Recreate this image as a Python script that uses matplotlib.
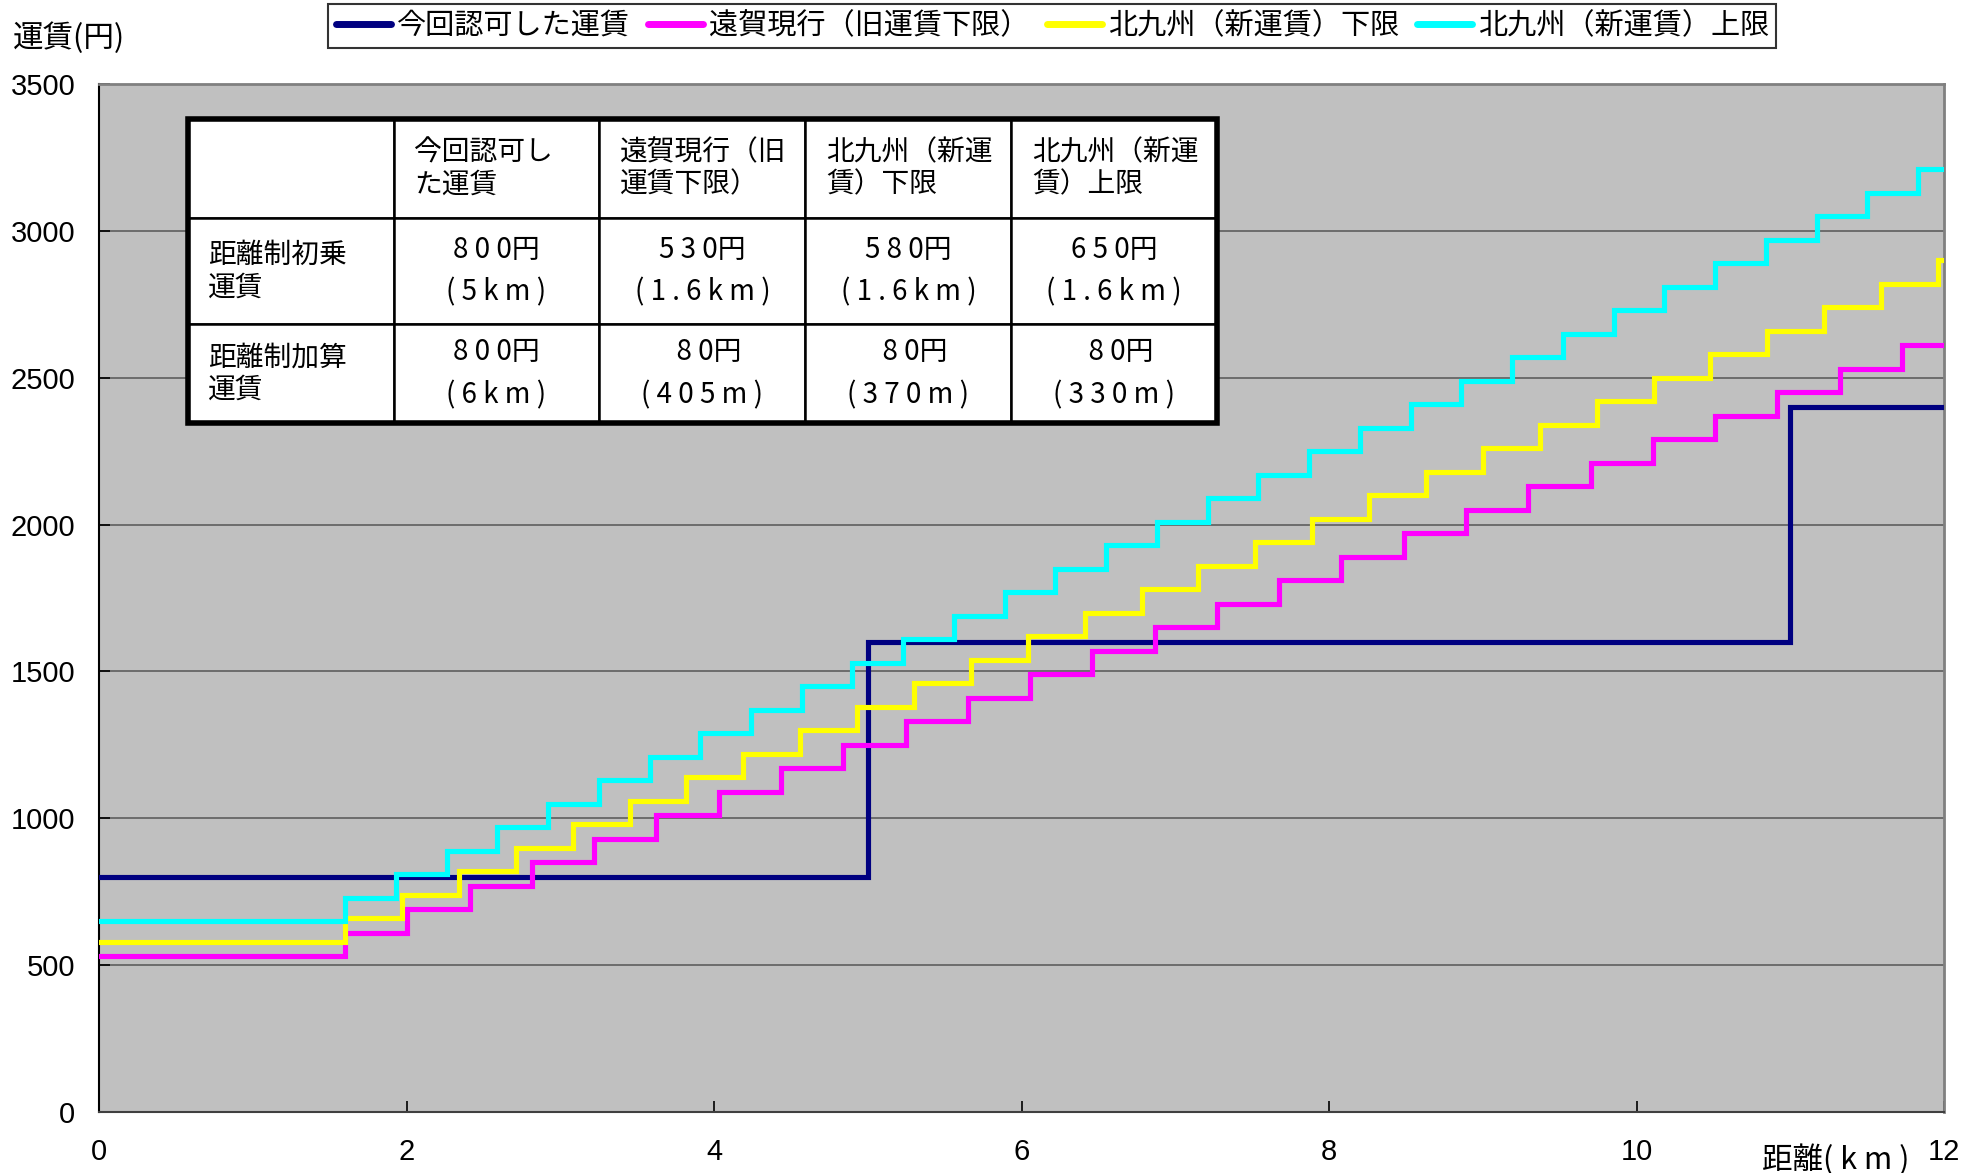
import matplotlib.pyplot as plt
from matplotlib.lines import Line2D
from matplotlib.patches import Rectangle

plt.rcParams['font.family'] = ['Noto Sans CJK JP', 'DejaVu Sans']

# step data: distance (km) where each fare starts, and the fare (yen)
nintei_km = [0, 5, 11]
nintei_yen = [800, 1600, 2400]

onga_km = [0, 1.6, 2.005, 2.41, 2.815, 3.22, 3.625, 4.03, 4.435, 4.84, 5.245,
           5.65, 6.055, 6.46, 6.865, 7.27, 7.675, 8.08, 8.485, 8.89, 9.295,
           9.70, 10.105, 10.51, 10.915, 11.32, 11.725]
onga_yen = [530, 610, 690, 770, 850, 930, 1010, 1090, 1170, 1250, 1330,
            1410, 1490, 1570, 1650, 1730, 1810, 1890, 1970, 2050, 2130,
            2210, 2290, 2370, 2450, 2530, 2610]

kita_low_km = [0, 1.6, 1.97, 2.34, 2.71, 3.08, 3.45, 3.82, 4.19, 4.56, 4.93,
               5.30, 5.67, 6.04, 6.41, 6.78, 7.15, 7.52, 7.89, 8.26, 8.63,
               9.00, 9.37, 9.74, 10.11, 10.48, 10.85, 11.22, 11.59, 11.96]
kita_low_yen = [580, 660, 740, 820, 900, 980, 1060, 1140, 1220, 1300, 1380,
                1460, 1540, 1620, 1700, 1780, 1860, 1940, 2020, 2100, 2180,
                2260, 2340, 2420, 2500, 2580, 2660, 2740, 2820, 2900]

kita_high_km = [0, 1.6, 1.93, 2.26, 2.59, 2.92, 3.25, 3.58, 3.91, 4.24, 4.57,
                4.90, 5.23, 5.56, 5.89, 6.22, 6.55, 6.88, 7.21, 7.54, 7.87,
                8.20, 8.53, 8.86, 9.19, 9.52, 9.85, 10.18, 10.51, 10.84,
                11.17, 11.50, 11.83]
kita_high_yen = [650, 730, 810, 890, 970, 1050, 1130, 1210, 1290, 1370, 1450,
                 1530, 1610, 1690, 1770, 1850, 1930, 2010, 2090, 2170, 2250,
                 2330, 2410, 2490, 2570, 2650, 2730, 2810, 2890, 2970, 3050,
                 3130, 3210]

KM_END = 12

series_names = ['今回認可した運賃', '遠賀現行（旧運賃下限）',
                '北九州（新運賃）下限', '北九州（新運賃）上限']
series_colors = ['#000080', '#FF00FF', '#FFFF00', '#00FFFF']

x_ticks = [0, 2, 4, 6, 8, 10, 12]
y_ticks = [0, 500, 1000, 1500, 2000, 2500, 3000, 3500]

# table contents
table_header = ['', '今回認可し\nた運賃', '遠賀現行（旧\n運賃下限）',
                '北九州（新運\n賃）下限', '北九州（新運\n賃）上限']
table_rows = [
    ['距離制初乗\n運賃', '8 0 0円\n( 5 k m )', '5 3 0円\n( 1 . 6 k m )',
     '5 8 0円\n( 1 . 6 k m )', '6 5 0円\n( 1 . 6 k m )'],
    ['距離制加算\n運賃', '8 0 0円\n( 6 k m )', '  8 0円\n( 4 0 5 m )',
     '  8 0円\n( 3 7 0 m )', '  8 0円\n( 3 3 0 m )'],
]

fig = plt.figure(figsize=(19.82, 11.73), dpi=100)
ax = fig.add_axes([0.0500, 0.0520, 0.9309, 0.8764])
ax.set_facecolor('#C0C0C0')

all_km = [nintei_km, onga_km, kita_low_km, kita_high_km]
all_yen = [nintei_yen, onga_yen, kita_low_yen, kita_high_yen]
for km, yen, col in zip(all_km, all_yen, series_colors):
    ax.step(km + [KM_END], yen + [yen[-1]], where='post', color=col,
            linewidth=3.7, solid_joinstyle='miter', zorder=3)

ax.set_xlim(0, 12)
ax.set_ylim(0, 3500)
ax.set_xticks(x_ticks)
ax.set_yticks(y_ticks)
ax.yaxis.grid(True, color='#666666', linewidth=1.3)
ax.set_axisbelow(True)
ax.tick_params(axis='both', direction='in', length=8, width=1.2,
               labelsize=21, color='black')
ax.tick_params(axis='x', pad=19)
ax.tick_params(axis='y', pad=17)
for lab in ax.get_xticklabels() + ax.get_yticklabels():
    lab.set_fontfamily('Liberation Sans')

ax.spines['left'].set_color('black')
ax.spines['left'].set_linewidth(1.5)
ax.spines['bottom'].set_color('#404040')
ax.spines['bottom'].set_linewidth(1.5)
ax.spines['top'].set_color('#808080')
ax.spines['top'].set_linewidth(2)
ax.spines['right'].set_color('#808080')
ax.spines['right'].set_linewidth(2)

fig.text(13 / 1982, 1 - 38 / 1173, '運賃(円)', fontsize=22,
         ha='left', va='center')
fig.text(1762 / 1982, 1 - 1160 / 1173, '距離( k m )', fontsize=22,
         ha='left', va='center')

# legend
handles = [Line2D([0], [0], color=c, linewidth=5, solid_capstyle='round')
           for c in series_colors]
leg = fig.legend(handles, series_names, loc='upper center',
                 bbox_to_anchor=(0.531, 0.997), ncol=4, fontsize=21,
                 frameon=True, fancybox=False, edgecolor='black',
                 handlelength=1.9, handletextpad=0.2, columnspacing=0.6,
                 borderpad=0.25, borderaxespad=0)
leg.get_frame().set_linewidth(1.5)

# fare table
tbl = ax.table(cellText=[table_header] + table_rows,
               bbox=[0.048, 0.670, 0.558, 0.296], cellLoc='left')
tbl.auto_set_font_size(False)
tbl.set_fontsize(20)
row_h = [78, 83, 78]
for (r, c), cell in tbl.get_celld().items():
    cell.set_height(row_h[r])
    cell.set_facecolor('white')
    cell.set_edgecolor('black')
    cell.set_linewidth(1.8)
    txt = cell.get_text()
    if r == 0 or c == 0:
        txt.set_linespacing(1.1)
        cell.PAD = 0.1
    else:
        txt.set_linespacing(1.55)
        txt.set_horizontalalignment('center')
        cell._loc = 'center'
tbl.set_zorder(5)

ax.add_patch(Rectangle((0.048, 0.670), 0.558, 0.296, transform=ax.transAxes,
                       fill=False, edgecolor='black', linewidth=4,
                       zorder=6, clip_on=False))

fig.savefig('out.png', dpi=100, facecolor='white')
